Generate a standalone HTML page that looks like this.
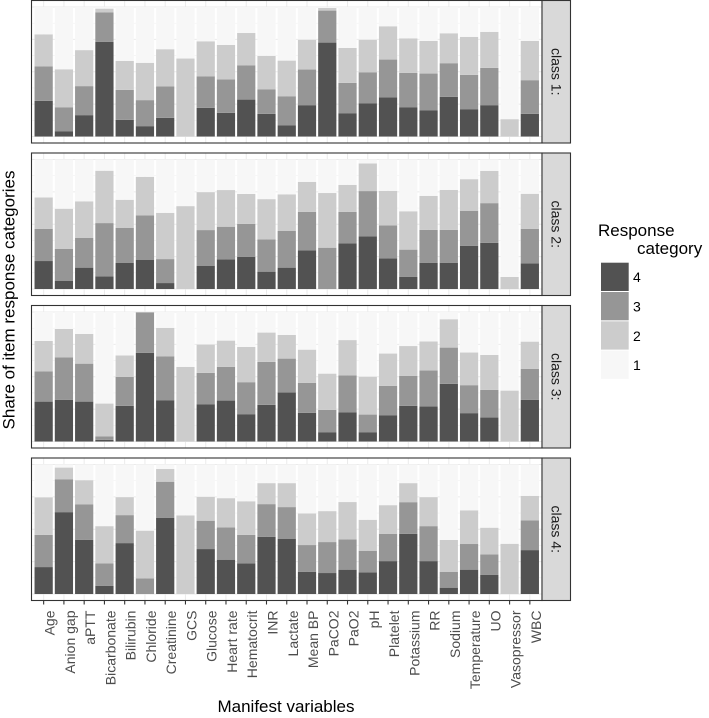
<!DOCTYPE html>
<html><head><meta charset="utf-8"><style>
html,body{margin:0;padding:0;background:#fff;}
svg{display:block;font-family:"Liberation Sans",Arial,sans-serif;}
</style></head><body>
<svg id="chart" width="709" height="718" viewBox="0 0 709 718" xmlns="http://www.w3.org/2000/svg"></svg>
<script>
const categories = ["Age","Anion gap","aPTT","Bicarbonate","Bilirubin","Chloride","Creatinine","GCS","Glucose","Heart rate","Hematocrit","INR","Lactate","Mean BP","PaCO2","PaO2","pH","Platelet","Potassium","RR","Sodium","Temperature","UO","Vasopressor","WBC"];
const classLabels = ["class 1:","class 2:","class 3:","class 4:"];
const responseLevels = ["4","3","2","1"];
// shares per class: category 4, 3, 2 (category 1 = remainder)
const c1cat4 = [.275,.041,.165,.730,.129,.080,.144,0,.221,.183,.285,.175,.085,.242,.725,.180,.257,.301,.224,.201,.306,.211,.242,0,.175];
const c1cat3 = [.267,.185,.224,.229,.231,.201,.242,0,.244,.257,.265,.188,.226,.275,.247,.234,.239,.293,.267,.285,.260,.265,.288,0,.260];
const c1cat2 = [.247,.293,.278,.028,.224,.288,.288,.602,.270,.267,.249,.260,.275,.231,.021,.270,.252,.257,.267,.252,.231,.293,.278,.134,.303];
const c2cat4 = [.216,.062,.165,.098,.201,.224,.046,0,.180,.229,.249,.134,.165,.298,0,.352,.406,.237,.093,.203,.203,.334,.357,0,.198];
const c2cat3 = [.249,.247,.229,.411,.272,.344,.185,0,.275,.252,.254,.249,.283,.298,.319,.244,.350,.254,.211,.254,.254,.270,.306,0,.267];
const c2cat2 = [.242,.311,.283,.404,.216,.298,.357,.640,.293,.283,.231,.311,.283,.231,.422,.208,.213,.267,.296,.262,.308,.244,.249,.093,.270];
const c3cat4 = [.308,.321,.308,.013,.275,.684,.319,0,.288,.316,.211,.283,.378,.221,.072,.226,.072,.201,.275,.270,.445,.219,.185,0,.321];
const c3cat3 = [.234,.329,.293,.026,.224,.314,.339,0,.242,.260,.247,.332,.262,.231,.172,.285,.136,.229,.231,.278,.280,.216,.213,0,.239];
const c3cat2 = [.234,.219,.229,.254,.165,0,.219,.576,.219,.203,.272,.226,.183,.257,.280,.272,.293,.249,.231,.224,.219,.252,.270,.393,.211];
const c4cat4 = [.208,.632,.419,.064,.393,0,.589,0,.347,.265,.237,.442,.427,.172,.162,.188,.167,.254,.465,.254,.049,.188,.147,0,.339];
const c4cat3 = [.249,.254,.272,.172,.216,.121,.278,0,.219,.249,.219,.252,.244,.206,.239,.234,.167,.211,.244,.270,.121,.198,.159,0,.229];
const c4cat2 = [.290,.090,.188,.288,.139,.368,.098,.607,.185,.226,.260,.162,.185,.244,.239,.288,.239,.221,.147,.224,.247,.260,.206,.388,.190];
const gridBreaks = [0,0.25,0.5,0.75,1];

const series = [[c1cat4,c1cat3,c1cat2],[c2cat4,c2cat3,c2cat2],[c3cat4,c3cat3,c3cat2],[c4cat4,c4cat3,c4cat2]];
const fills = ["#525252","#969696","#cccccc","#f7f7f7"];
const NS = "http://www.w3.org/2000/svg";
const svg = document.getElementById("chart");
function mk(tag, attrs, parent){const e=document.createElementNS(NS,tag);for(const k in attrs)e.setAttribute(k,attrs[k]);(parent||svg).appendChild(e);return e;}

const panelLeft = 31.5, panelRight = 542, panelH = 142.5;
const panelTops = [0.5, 153, 305.5, 458];
const step = (panelRight - panelLeft) / (categories.length + 0.2);
function xCenter(i){ return panelLeft + step*0.6 + i*step; }
function yScale(p, v){ return panelTops[p] + panelH - (0.05 + v) * panelH / 1.1; }
const bw = step*0.9;

for (let p=0; p<4; p++){
  const g = mk("g", {});
  
  
  mk("rect",{x:panelLeft,y:panelTops[p],width:panelRight-panelLeft,height:panelH,fill:"#fff"},g);
  for (let k=0;k<gridBreaks.length-1;k++){
    const ym = yScale(p,(gridBreaks[k]+gridBreaks[k+1])/2);
    mk("line",{x1:panelLeft,x2:panelRight,y1:ym,y2:ym,stroke:"#f2f2f2","stroke-width":0.6},g);
  }
  gridBreaks.forEach(b=>{const y=yScale(p,b);mk("line",{x1:panelLeft,x2:panelRight,y1:y,y2:y,stroke:"#ebebeb","stroke-width":1},g);});
  categories.forEach((c,i)=>{const x=xCenter(i);mk("line",{x1:x,x2:x,y1:panelTops[p],y2:panelTops[p]+panelH,stroke:"#ebebeb","stroke-width":1},g);});
  const [s4,s3,s2] = series[p];
  categories.forEach((c,i)=>{
    const vals = [s4[i], s3[i], s2[i]];
    vals.push(Math.max(0, 1 - vals[0]-vals[1]-vals[2]));
    let cum = 0;
    vals.forEach((v,k)=>{
      if (v<=0) return;
      const y1 = yScale(p, cum+v), y0 = yScale(p, cum);
      const r = mk("rect",{x:xCenter(i)-bw/2,y:y1,width:bw,height:y0-y1,fill:fills[k]},g);
      
      
      cum += v;
    });
  });
  const border = mk("rect",{x:panelLeft,y:panelTops[p],width:panelRight-panelLeft,height:panelH,fill:"none",stroke:"#333","stroke-width":1.1},g);
  
  
  const strip = mk("rect",{x:panelRight,y:panelTops[p],width:28.5,height:panelH,fill:"#d9d9d9",stroke:"#333","stroke-width":1.1},g);
  
  
  const cy = panelTops[p]+panelH/2, cx = panelRight+14.5;
  const st = mk("text",{x:cx,y:cy,transform:`rotate(90 ${cx} ${cy})`,"text-anchor":"middle","dominant-baseline":"central","font-size":14,fill:"#1a1a1a"},g);
  st.textContent = classLabels[p];
  
  
}
// x axis ticks and labels
const axisY = panelTops[3]+panelH;
categories.forEach((c,i)=>{
  const x = xCenter(i);
  mk("line",{x1:x,x2:x,y1:axisY,y2:axisY+4,stroke:"#333","stroke-width":1.1});
  const t = mk("text",{x:x+6,y:axisY+10,transform:`rotate(-90 ${x+6} ${axisY+10})`,"text-anchor":"end","dominant-baseline":"central","font-size":14,fill:"#4d4d4d"});
  t.textContent = c;
  
  
});
const xt = mk("text",{x:286,y:712,"text-anchor":"middle","font-size":17,fill:"#000"});
xt.textContent = "Manifest variables";


const yt = mk("text",{x:9,y:300,transform:"rotate(-90 9 300)","text-anchor":"middle","dominant-baseline":"central","font-size":17,fill:"#000"});
yt.textContent = "Share of item response categories";


// legend
const lg = mk("g",{});


const l1 = mk("text",{x:598,y:236,"font-size":17,fill:"#000"},lg); l1.textContent="Response";


const l2 = mk("text",{x:637,y:254,"font-size":17,fill:"#000"},lg); l2.textContent="category";


responseLevels.forEach((lv,k)=>{
  const y = 262.7 + k*29.3;
  const r = mk("rect",{x:601,y:y,width:27.7,height:28.3,fill:fills[k]},lg);
  
  
  const t = mk("text",{x:633,y:y+14.5,"dominant-baseline":"central","font-size":14,fill:"#000"},lg);
  t.textContent = lv;
  
  
});
</script>
</body></html>
